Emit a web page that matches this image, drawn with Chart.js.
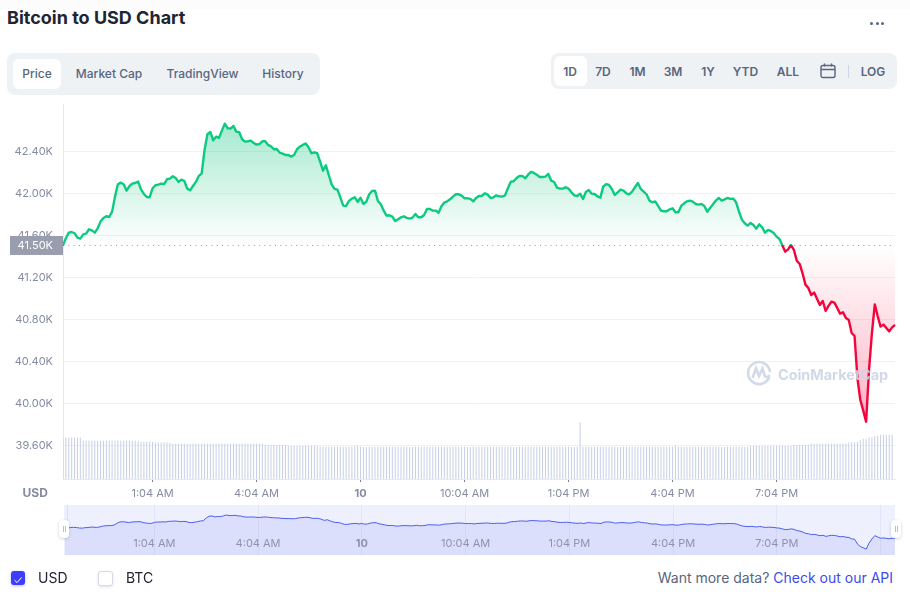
<!DOCTYPE html>
<html>
<head>
<meta charset="utf-8">
<script src="https://cdn.jsdelivr.net/npm/chart.js@4"></script>
<style>
html, body { margin: 0; padding: 0; background: #fff; }
body { width: 910px; height: 596px; position: relative; overflow: hidden; font-family: Inter, "Noto Sans", sans-serif; color: #58667e; }
.abs { position: absolute; white-space: nowrap; }
.lbl { position: absolute; white-space: nowrap; transform: translateX(-50%); font-size: 12px; line-height: 16px; }
canvas { position: absolute; display: block; }
</style>
</head>
<body>
<div class="abs" style="left:0;top:0;width:910px;height:9px;background:#fcfcfc"></div>
<div class="abs" style="left:7px;top:6px;font-size:18px;line-height:24px;font-weight:700;color:#222531">Bitcoin to USD Chart</div>
<div class="abs" style="left:870px;top:21.5px;width:3px;height:3px;border-radius:50%;background:#58667e"></div>
<div class="abs" style="left:875.5px;top:21.5px;width:3px;height:3px;border-radius:50%;background:#58667e"></div>
<div class="abs" style="left:881px;top:21.5px;width:3px;height:3px;border-radius:50%;background:#58667e"></div>

<div class="abs" style="left:7px;top:53px;width:313px;height:42px;border-radius:8px;background:#eff2f5"></div>
<div class="abs" style="left:13px;top:59px;width:48px;height:30px;border-radius:6px;background:#fff"></div>
<div class="lbl" style="left:37px;top:66px;font-weight:500">Price</div>
<div class="lbl" style="left:109px;top:66px;font-weight:500">Market Cap</div>
<div class="lbl" style="left:202.5px;top:66px;font-weight:500">TradingView</div>
<div class="lbl" style="left:283px;top:66px;font-weight:500">History</div>

<div class="abs" style="left:551px;top:53px;width:346px;height:36px;border-radius:8px;background:#eff2f5"></div>
<div class="abs" style="left:554px;top:56px;width:33px;height:30px;border-radius:6px;background:#fff"></div>
<div class="lbl" style="left:570px;top:64px;font-weight:600">1D</div>
<div class="lbl" style="left:603px;top:64px;font-weight:600">7D</div>
<div class="lbl" style="left:637.5px;top:64px;font-weight:600">1M</div>
<div class="lbl" style="left:673px;top:64px;font-weight:600">3M</div>
<div class="lbl" style="left:708px;top:64px;font-weight:600">1Y</div>
<div class="lbl" style="left:745.5px;top:64px;font-weight:600">YTD</div>
<div class="lbl" style="left:788px;top:64px;font-weight:600">ALL</div>
<svg class="abs" style="left:820px;top:63px" width="16" height="16" viewBox="0 0 16 16" fill="none" stroke="#58667e" stroke-width="1.4">
  <rect x="1" y="2.5" width="14" height="12" rx="2"/><path d="M1 6.5H15M4.5 0.5V3.5M11.5 0.5V3.5"/>
</svg>
<div class="abs" style="left:848px;top:65px;width:1px;height:13px;background:#cfd6e4"></div>
<div class="lbl" style="left:873px;top:64px;font-weight:600">LOG</div>

<canvas id="priceChart" style="left:0;top:0;width:910px;height:510px"></canvas>
<div class="abs" style="left:22.5px;top:485px;font-size:12px;line-height:16px;font-weight:700;color:#858ca2">USD</div>

<svg class="abs" style="left:746px;top:360px" width="26" height="26" viewBox="0 0 26 26" fill="none" stroke="#d3d9e8" stroke-width="2.6">
  <path d="M23.5 16.5A11 11 0 1 1 24 12"/><path d="M6.5 18L10 8.5L13 16L16.5 8.5L19 16.5Q21 18 23.5 15"/>
</svg>
<div class="abs" style="left:778px;top:365px;font-size:14.4px;line-height:20px;font-weight:700;color:#cdd4e5;opacity:.9">CoinMarketCap</div>

<div class="abs" style="left:64px;top:505px;width:831px;height:50px;background:#eef0fd"></div>
<canvas id="navChart" style="left:64px;top:505px;width:831px;height:50px"></canvas>
<div class="abs" style="left:67px;top:505px;width:1px;height:50px;background:#dcdff5"></div>
<div class="abs" style="left:59px;top:520px;width:10px;height:18px;border-radius:4px;background:#fff;box-shadow:0 1px 3px rgba(88,102,126,.3)"></div>
<div class="abs" style="left:62.5px;top:526px;width:1px;height:6px;background:#b9bfd0"></div>
<div class="abs" style="left:64.5px;top:526px;width:1px;height:6px;background:#b9bfd0"></div>
<div class="abs" style="left:891px;top:520px;width:10px;height:18px;border-radius:4px;background:#fff;box-shadow:0 1px 3px rgba(88,102,126,.3)"></div>
<div class="abs" style="left:894.5px;top:526px;width:1px;height:6px;background:#b9bfd0"></div>
<div class="abs" style="left:896.5px;top:526px;width:1px;height:6px;background:#b9bfd0"></div>

<div class="abs" style="left:11px;top:571px;width:14px;height:14px;border-radius:3px;background:#3d3dfa;box-shadow:0 1px 3px rgba(61,61,250,.35)">
  <svg width="14" height="14" viewBox="0 0 14 14" fill="none" stroke="#fff" stroke-width="1"><path d="M3.5 7.2L6 9.6L10.6 4.4"/></svg>
</div>
<div class="abs" style="left:38px;top:569px;font-size:14px;line-height:18px;color:#222531">USD</div>
<div class="abs" style="left:98px;top:571px;width:13px;height:13px;border-radius:3px;background:#fff;border:1px solid #d5daea;box-shadow:0 1px 3px rgba(88,102,126,.2)"></div>
<div class="abs" style="left:126px;top:569px;font-size:14px;line-height:18px;color:#222531">BTC</div>
<div class="abs" style="right:17px;top:569px;font-size:14px;line-height:18px;color:#58667e">Want more data? <span style="color:#3d4af0">Check out our API</span></div>

<script>
const baseLine = 41505;
const baseLabel = '41.50K';
const yTickValues = [39600, 40000, 40400, 40800, 41200, 41600, 42000, 42400];
const tickPositions = [31, 67, 103, 139, 175, 211, 247];
const tickLabels = ['1:04 AM', '4:04 AM', '10', '10:04 AM', '1:04 PM', '4:04 PM', '7:04 PM'];
const navTickPositions = [31, 67, 103, 139, 175, 211, 247, 283];
const navTickLabels = ['1:04 AM', '4:04 AM', '10', '10:04 AM', '1:04 PM', '4:04 PM', '7:04 PM', ''];

// USD price, one reading every 5 minutes
const priceUsd = [
  41506, 41573, 41627, 41633, 41621, 41579, 41570, 41611, 41617, 41659, 41649, 41627,
  41668, 41732, 41767, 41783, 41776, 41827, 41970, 42087, 42103, 42087, 42027, 42071,
  42094, 42100, 42113, 42040, 41995, 41967, 41964, 42049, 42078, 42084, 42094, 42090,
  42135, 42141, 42164, 42148, 42110, 42132, 42119, 42046, 42030, 42071, 42110, 42167,
  42189, 42414, 42564, 42586, 42506, 42541, 42529, 42598, 42665, 42621, 42617, 42643,
  42589, 42583, 42516, 42494, 42497, 42503, 42481, 42465, 42471, 42497, 42497, 42462,
  42449, 42421, 42424, 42389, 42379, 42367, 42367, 42351, 42367, 42421, 42446,
  42462, 42475, 42440, 42383, 42392, 42383, 42303, 42217, 42268, 42176, 42087, 42043,
  42036, 41963, 41884, 41881, 41929, 41951, 41963, 41919, 41960, 41900, 41922, 41992,
  42024, 42027, 41929, 41897, 41837, 41789, 41792, 41779, 41738, 41754, 41773, 41783,
  41767, 41760, 41770, 41805, 41773, 41773, 41795, 41852, 41852, 41837, 41837, 41817,
  41878, 41913, 41925, 41944, 41970, 41992, 41992, 41979, 41954, 41954, 41948, 41925,
  41957, 41976, 41976, 42002, 41989, 41957, 41963, 41982, 41973, 41970, 41982, 42049,
  42113, 42116, 42148, 42167, 42167, 42144, 42179, 42205, 42195, 42179, 42157, 42157,
  42160, 42186, 42122, 42109, 42056, 42046, 42046, 42059, 42046, 42011, 41982, 41976,
  41998, 41948, 42014, 42033, 41998, 41995, 41973, 41960,
  42065, 42090, 42081, 42043, 41986, 42011, 42037, 42027, 42002, 41992, 42017, 42059,
  42100, 42043, 42017, 41992, 41932, 41916, 41925, 41881, 41836, 41830, 41830, 41849,
  41859, 41821, 41821, 41881, 41906, 41925, 41932, 41922, 41900, 41894, 41900, 41881,
  41827, 41862, 41897, 41932, 41957, 41932, 41944, 41957, 41948, 41951, 41916, 41827,
  41751, 41716, 41694, 41719, 41700, 41665, 41706, 41678, 41627, 41652, 41643, 41624,
  41589, 41567, 41506, 41446, 41468, 41509, 41462, 41360, 41329, 41240, 41132, 41100,
  41033, 41056, 40998, 40938, 40976, 40881, 40929, 40970, 40960, 40910, 40856, 40868,
  40814, 40795, 40671, 40643, 40240, 40033, 39932, 39827, 40319, 40668, 40944, 40833,
  40732, 40751, 40719, 40687, 40725, 40748
];

// traded volume in billions of USD, same 5 minute steps
const volumeBn = [
  26.5, 26.5, 26.5, 26.5, 26.5, 26.5, 26.5, 24.5, 24.5, 24.5, 24.5, 24.5, 24.5, 24.5, 24.5, 24.5, 24.5,
  24.5, 24.5, 24.5, 24.5, 24.5, 24.5, 24.5, 24.5, 24.5, 24.5, 23.9, 23.9, 23.9, 23.9, 23.9, 23.3, 23.3,
  23.3, 23.3, 23.3, 23.3, 22.6, 22.6, 22.6, 22.6, 22.6, 22.6, 22.6, 22.6, 22.6, 22.6, 22.6, 22.6, 22.6,
  22.6, 22.6, 22.6, 22.6, 22.6, 22.6, 22.6, 22.6, 22.6, 22.6, 22.6, 22.6, 22.6, 22.6, 22.6, 22.6, 22.6,
  22.6, 22.6, 22.0, 22.0, 22.0, 22.0, 22.0, 22.0, 22.0, 22.0, 21.3, 21.3, 21.3, 21.3, 21.3, 21.3, 21.3,
  21.3, 21.3, 21.3, 21.3, 20.7, 20.7, 20.7, 20.7, 20.7, 20.7, 20.7, 20.7, 20.7, 20.7, 20.7, 20.7, 21.3,
  21.3, 20.7, 20.7, 20.7, 20.7, 20.7, 20.7, 20.7, 20.7, 20.7, 20.7, 20.7, 20.7, 20.7, 20.7, 20.7, 20.7,
  20.7, 20.7, 20.7, 20.7, 20.7, 20.7, 20.7, 20.7, 20.7, 20.7, 20.7, 20.7, 20.7, 20.7, 20.7, 20.7, 20.7,
  20.7, 20.7, 20.7, 20.7, 20.7, 20.7, 20.7, 20.7, 20.7, 20.7, 20.7, 20.7, 20.7, 20.7, 20.7, 20.7, 20.7,
  20.7, 20.7, 20.7, 20.7, 20.7, 20.7, 20.7, 20.7, 20.7, 20.7, 20.7, 20.7, 20.7, 20.7, 20.7, 20.7, 20.7,
  20.7, 20.7, 20.7, 20.7, 20.7, 20.7, 20.7, 20.7, 20.7, 36.3, 20.7, 20.7, 20.7, 20.7, 20.7, 20.7, 20.7,
  20.7, 20.7, 20.7, 20.7, 20.7, 20.7, 20.7, 20.7, 20.7, 20.7, 20.7, 20.7, 20.7, 20.7, 20.7, 20.7, 20.7,
  20.7, 20.7, 20.7, 20.7, 20.7, 20.7, 20.7, 20.7, 21.3, 20.7, 20.7, 20.7, 20.7, 20.7, 20.7, 20.7, 20.7,
  20.7, 20.7, 20.7, 20.7, 20.7, 20.7, 20.7, 20.7, 20.7, 20.7, 20.7, 20.7, 20.7, 20.7, 20.7, 20.7, 20.7,
  21.3, 21.3, 21.3, 21.3, 21.3, 21.3, 21.3, 21.3, 21.3, 21.3, 21.3, 21.3, 21.3, 21.3, 21.3, 22.0, 22.0,
  22.0, 22.0, 22.0, 22.0, 22.6, 22.6, 22.6, 22.6, 22.6, 22.6, 22.6, 22.6, 22.6, 22.6, 22.6, 22.6, 22.6,
  23.3, 23.3, 23.3, 23.9, 25.2, 25.8, 25.8, 26.5, 26.5, 27.7, 27.7, 28.1, 28.4, 28.4, 28.4, 28.4
];

const green = '#0ccb81';
const red = '#f5033c';
const axisText = '#858ca2';
const labels = priceUsd.map((_, i) => i);

// grey price tag on the left of the dotted line
const baseTag = {
  id: 'baseTag',
  afterDraw(chart) {
    const { ctx, scales } = chart;
    const py = scales.y.getPixelForValue(baseLine);
    ctx.save();
    ctx.fillStyle = '#989eae';
    ctx.fillRect(10, py - 9.5, 53, 19);
    ctx.fillStyle = '#fff';
    ctx.font = '11px Inter';
    ctx.textAlign = 'right';
    ctx.textBaseline = 'middle';
    ctx.fillText(baseLabel, 53, py + 0.5);
    ctx.restore();
  }
};

const priceChart = new Chart(document.getElementById('priceChart'), {
  type: 'line',
  data: {
    labels: labels,
    datasets: [
      {
        label: 'Price',
        data: priceUsd,
        yAxisID: 'y',
        borderColor: green,
        borderWidth: 2.4,
        borderJoinStyle: 'round',
        pointRadius: 0,
        tension: 0,
        order: 1,
        fill: { target: { value: baseLine }, above: 'rgba(22,199,132,0.2)', below: 'rgba(245,3,60,0.15)' }
      },
      {
        label: 'Base',
        data: priceUsd.map(() => baseLine),
        yAxisID: 'y',
        borderColor: '#8a8f9e',
        borderWidth: 1,
        borderDash: [1, 4.3],
        pointRadius: 0,
        fill: false,
        order: 2
      },
      {
        type: 'bar',
        label: 'Volume',
        data: volumeBn,
        yAxisID: 'yVol',
        backgroundColor: '#c5cfe6',
        barThickness: 1,
        inflateAmount: 0,
        order: 3
      }
    ]
  },
  options: {
    responsive: false,
    animation: false,
    layout: { padding: { top: 104, right: 15, left: 0, bottom: 0 } },
    plugins: { legend: { display: false }, tooltip: { enabled: false } },
    scales: {
      x: {
        type: 'category',
        offset: false,
        grid: { offset: false, drawOnChartArea: false, drawTicks: true, tickLength: 3, color: '#7b8298' },
        border: { color: '#e6e9f0' },
        afterBuildTicks(axis) { axis.ticks = tickPositions.map(v => ({ value: v })); },
        afterFit(axis) { axis.height = 31; },
        ticks: {
          autoSkip: false,
          maxRotation: 0,
          padding: 5,
          color: axisText,
          font: c => ({ family: 'Inter', size: 11, weight: c.tick && c.tick.label === '10' ? 'bold' : 'normal' }),
          callback: (v, i) => tickLabels[i]
        }
      },
      y: {
        min: 39281,
        max: 42852,
        grid: { color: '#eff2f5', drawTicks: false },
        border: { color: '#e6e9f0' },
        afterBuildTicks(axis) { axis.ticks = yTickValues.map(v => ({ value: v })); },
        afterFit(axis) { axis.width = 63; },
        ticks: {
          padding: 10,
          color: axisText,
          font: { family: 'Inter', size: 11 },
          callback: v => (v / 1000).toFixed(2) + 'K'
        }
      },
      yVol: { display: false, min: 0, max: 240 }
    }
  },
  plugins: [baseTag]
});

// gradients need the chart area, so they go on after the first layout
const ctx = priceChart.ctx;
const yScale = priceChart.scales.y;
const baseY = yScale.getPixelForValue(baseLine);
const area = priceChart.chartArea;
const stop = (baseY - area.top) / (area.bottom - area.top);
const stroke = ctx.createLinearGradient(0, area.top, 0, area.bottom);
stroke.addColorStop(0, green);
stroke.addColorStop(stop, green);
stroke.addColorStop(stop, red);
stroke.addColorStop(1, red);
const above = ctx.createLinearGradient(0, yScale.getPixelForValue(42665), 0, baseY);
above.addColorStop(0, 'rgba(22,199,132,0.38)');
above.addColorStop(1, 'rgba(22,199,132,0)');
const below = ctx.createLinearGradient(0, baseY, 0, yScale.getPixelForValue(39827));
below.addColorStop(0, 'rgba(245,3,60,0)');
below.addColorStop(1, 'rgba(245,3,60,0.3)');
const priceSet = priceChart.data.datasets[0];
priceSet.borderColor = stroke;
priceSet.fill = { target: { value: baseLine }, above: above, below: below };
priceChart.update('none');

new Chart(document.getElementById('navChart'), {
  type: 'line',
  data: {
    labels: labels,
    datasets: [{
      data: priceUsd,
      borderColor: '#4a5df0',
      borderWidth: 1,
      pointRadius: 0,
      tension: 0,
      fill: 'start',
      backgroundColor: '#dcdffb'
    }]
  },
  options: {
    responsive: false,
    animation: false,
    layout: { padding: { left: 1, right: 0, top: 0, bottom: 0 } },
    plugins: { legend: { display: false }, tooltip: { enabled: false } },
    scales: {
      x: {
        type: 'category',
        grid: { color: 'rgba(110,120,190,0.09)', drawTicks: false, z: 1 },
        border: { display: false },
        afterBuildTicks(axis) { axis.ticks = navTickPositions.map(v => ({ value: v })); },
        afterFit(axis) { axis.height = 0; },
        ticks: {
          z: 1,
          mirror: true,
          autoSkip: false,
          maxRotation: 0,
          padding: 5,
          color: '#8d93ad',
          font: c => ({ family: 'Inter', size: 11, weight: c.tick && c.tick.label === '10' ? 'bold' : 'normal' }),
          callback: (v, i) => navTickLabels[i]
        }
      },
      y: { display: false, min: 39330, max: 43500 }
    }
  }
});
</script>
</body>
</html>
